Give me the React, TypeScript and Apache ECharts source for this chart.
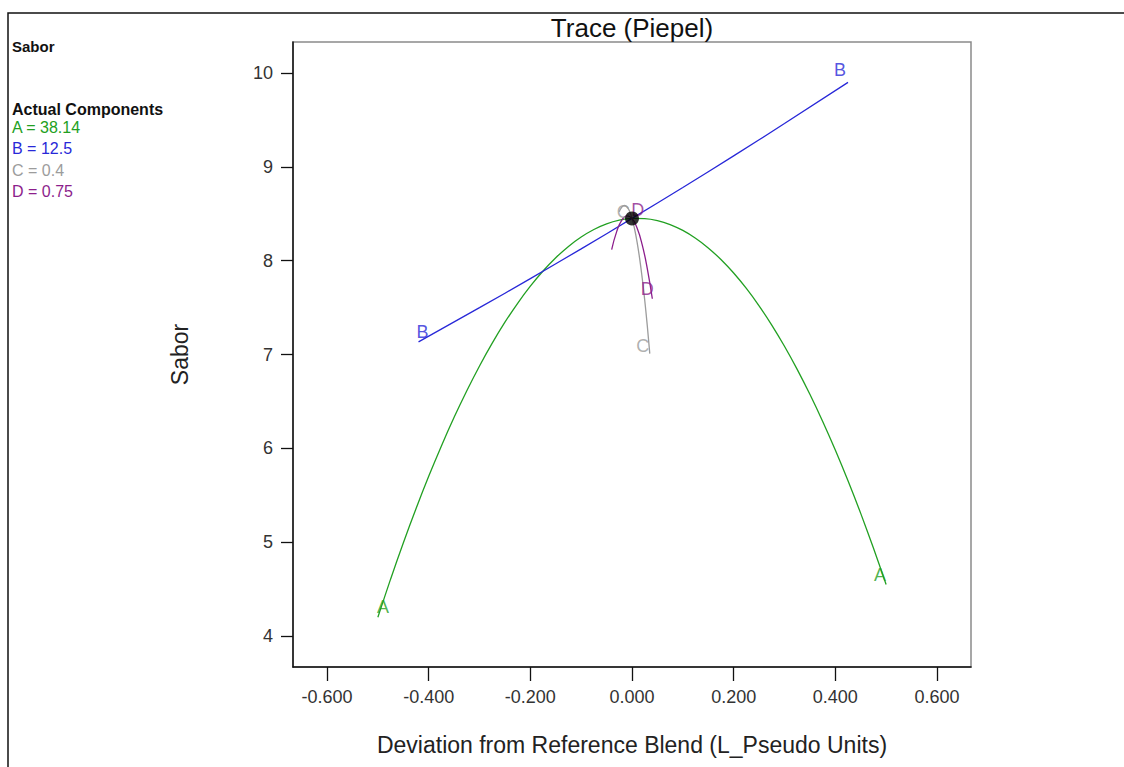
import React, { useEffect, useRef } from "react";
import * as echarts from "echarts";

// ---- data ----
const aX = [-0.5, -0.475, -0.45, -0.425, -0.4, -0.375, -0.35, -0.325, -0.3, -0.275, -0.25, -0.225, -0.2, -0.175, -0.15, -0.125, -0.1, -0.075, -0.05, -0.025, 0, 0.025, 0.05, 0.075, 0.1, 0.125, 0.15, 0.175, 0.2, 0.225, 0.25, 0.275, 0.3, 0.325, 0.35, 0.375, 0.4, 0.425, 0.45, 0.475, 0.5];
const aY = [4.2, 4.606, 4.992, 5.357, 5.702, 6.026, 6.331, 6.614, 6.878, 7.121, 7.344, 7.546, 7.728, 7.89, 8.031, 8.152, 8.252, 8.332, 8.392, 8.431, 8.45, 8.448, 8.427, 8.385, 8.322, 8.239, 8.136, 8.012, 7.868, 7.704, 7.519, 7.314, 7.088, 6.842, 6.576, 6.289, 5.982, 5.654, 5.307, 4.938, 4.55];
const bX = [-0.42, -0.3, -0.2, -0.1, 0, 0.1, 0.2, 0.3, 0.425];
const bY = [7.135, 7.499, 7.809, 8.126, 8.45, 8.78, 9.117, 9.461, 9.9];
const cX = [-0.025, -0.02, -0.015, -0.01, -0.005, 0, 0.005, 0.01, 0.015, 0.02, 0.025, 0.03, 0.035];
const cY = [8.521, 8.57, 8.588, 8.574, 8.528, 8.45, 8.34, 8.198, 8.024, 7.818, 7.581, 7.311, 7.009];
const dX = [-0.04, -0.03, -0.02, -0.01, 0, 0.01, 0.02, 0.03, 0.04];
const dY = [8.117, 8.312, 8.432, 8.478, 8.45, 8.347, 8.171, 7.919, 7.594];
const refPoint = [0, 8.45];

const xTicks = [-0.6, -0.4, -0.2, 0, 0.2, 0.4, 0.6];
const yTicks = [4, 5, 6, 7, 8, 9, 10];

const componentNames = ["A", "B", "C", "D"];
const componentValues = ["38.14", "12.5", "0.4", "0.75"];
const colors = ["#22a022", "#2828d8", "#9c9c9c", "#8c1e8c"];

const titleText = "Trace (Piepel)";
const xName = "Deviation from Reference Blend (L_Pseudo Units)";
const yName = "Sabor";
const responseName = "Sabor";
const legendHeader = "Actual Components";

const FONT = "'Liberation Sans', Arial, sans-serif";

export default function App() {
  const ref = useRef<HTMLDivElement>(null);
  useEffect(() => {
    if (!ref.current) return;
    const chart = echarts.init(ref.current, null, { renderer: "svg" });
    const toPairs = (xs: number[], ys: number[]) => xs.map((x, i) => [x, ys[i]]);
    const curves = [toPairs(aX, aY), toPairs(bX, bY), toPairs(cX, cY), toPairs(dX, dY)];
    // label offsets for [first, last] points
    const offsets = [
      [[5, -10], [-6, -9]],
      [[4, -10], [-8, -12]],
      [[4, 0], [-7, -8]],
      [[26, -40], [-5, -10]],
    ];
    const lineSeries = curves.map((data, i) => ({
      type: "line",
      data,
      showSymbol: false,
      smooth: i === 0 ? 0.3 : true,
      lineStyle: { color: colors[i], width: 1.3 },
      z: 2,
    }));
    const labelData: any[] = [];
    curves.forEach((data, i) => {
      [data[0], data[data.length - 1]].forEach((pt, j) => {
        labelData.push({
          value: pt,
          label: {
            show: true,
            position: "inside",
            formatter: componentNames[i],
            color: colors[i],
            textBorderWidth: 0,
            fontSize: 18,
            fontFamily: FONT,
            offset: offsets[i][j],
          },
        });
      });
    });
    const legendItems = componentNames.map((n, i) => ({
      type: "text",
      left: 12,
      top: 119 + i * 21.5,
      style: { text: `${n} = ${componentValues[i]}`, fill: colors[i], font: `16px ${FONT}` },
    }));
    chart.setOption({
      animation: false,
      backgroundColor: "#ffffff",
      title: {
        text: titleText,
        left: 627,
        textAlign: "center",
        top: 10,
        textStyle: { fontFamily: FONT, fontSize: 26, fontWeight: "normal", color: "#111" },
      },
      grid: { left: 293, top: 42, right: 153, bottom: 100, show: true, borderColor: "#8a8a8a", borderWidth: 1.5 },
      xAxis: {
        type: "value",
        min: -0.667,
        max: 0.667,
        name: xName,
        nameLocation: "middle",
        nameGap: 66,
        nameTextStyle: { fontFamily: FONT, fontSize: 23, color: "#222" },
        axisLine: { show: true, onZero: false, lineStyle: { color: "#111", width: 1.5 } },
        axisTick: { show: true, length: 14, customValues: xTicks, lineStyle: { color: "#111", width: 1.3 } },
        axisLabel: {
          customValues: xTicks,
          formatter: (v: number) => v.toFixed(3),
          margin: 21,
          fontFamily: FONT,
          fontSize: 18,
          color: "#333",
        },
        splitLine: { show: false },
      },
      yAxis: {
        type: "value",
        min: 3.67,
        max: 10.33,
        name: yName,
        nameLocation: "middle",
        nameGap: 102,
        nameTextStyle: { fontFamily: FONT, fontSize: 23, color: "#222" },
        axisLine: { show: true, onZero: false, lineStyle: { color: "#111", width: 1.5 } },
        axisTick: { show: true, length: 12, customValues: yTicks, lineStyle: { color: "#111", width: 1.3 } },
        axisLabel: { customValues: yTicks, margin: 20, fontFamily: FONT, fontSize: 18, color: "#333" },
        splitLine: { show: false },
      },
      graphic: [
        {
          type: "rect",
          shape: { x: 8, y: 13, width: 1300, height: 900 },
          style: { fill: "none", stroke: "#111", lineWidth: 1.5 },
          silent: true,
        },
        {
          type: "text",
          left: 12,
          top: 39,
          style: { text: responseName, fill: "#111", font: `bold 15px ${FONT}` },
        },
        {
          type: "text",
          left: 12,
          top: 101,
          style: { text: legendHeader, fill: "#111", font: `bold 16px ${FONT}` },
        },
        ...legendItems,
      ],
      series: [
        ...lineSeries,
        {
          type: "scatter",
          data: labelData,
          symbolSize: 1,
          itemStyle: { color: "rgba(0,0,0,0)" },
          z: 3,
        },
        {
          type: "scatter",
          data: [refPoint],
          symbolSize: 14,
          itemStyle: { color: "#000" },
          z: 5,
        },
      ],
    });
    return () => chart.dispose();
  }, []);
  return <div ref={ref} style={{ position: "fixed", left: 0, top: 0, width: 1124, height: 767 }} />;
}
